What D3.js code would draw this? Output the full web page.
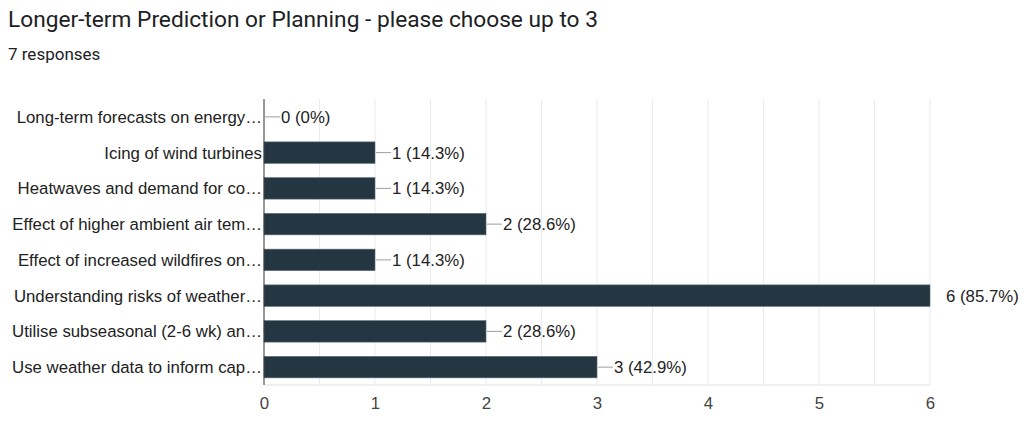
<!DOCTYPE html>
<html>
<head>
<meta charset="utf-8">
<script src="https://cdn.jsdelivr.net/npm/d3@7"></script>
<style>
  body { margin: 0; background: #fff; }
  svg { display: block; }
</style>
</head>
<body>
<svg id="chart" width="1024" height="430"></svg>
<script>
const title = "Longer-term Prediction or Planning - please choose up to 3";
const subtitle = "7 responses";
const totalResponses = 7;

// Answer options (truncated like in the form summary)
const categories = [
  "Long-term forecasts on energy…",
  "Icing of wind turbines",
  "Heatwaves and demand for co…",
  "Effect of higher ambient air tem…",
  "Effect of increased wildfires on…",
  "Understanding risks of weather…",
  "Utilise subseasonal (2-6 wk) an…",
  "Use weather data to inform cap…"
];
const counts = [0, 1, 1, 2, 1, 6, 2, 3];
const xTicks = [0, 1, 2, 3, 4, 5, 6];

const margin = { top: 99, right: 94, bottom: 45, left: 264 };
const width = 1024, height = 430;
const labelFont = "'Liberation Sans', Arial, sans-serif";

const svg = d3.select("#chart");

svg.append("text")
  .attr("x", 8).attr("y", 27)
  .style("font-family", "Roboto, sans-serif")
  .style("font-size", "22.7px")
  .attr("fill", "#202124")
  .text(title);

svg.append("text")
  .attr("x", 8).attr("y", 60)
  .style("font-family", "Roboto, sans-serif")
  .style("font-size", "17px")
  .attr("fill", "#202124")
  .text(subtitle);

const x = d3.scaleLinear()
  .domain([0, 6])
  .range([margin.left, width - margin.right]);

const y = d3.scaleBand()
  .domain(categories)
  .range([margin.top, height - margin.bottom])
  .paddingInner(0.4)
  .paddingOuter(0.2);

const g = svg.append("g");

// light grid, every half unit
g.append("g")
  .selectAll("line")
  .data(d3.range(0.5, 6.01, 0.5))
  .join("line")
  .attr("x1", d => x(d)).attr("x2", d => x(d))
  .attr("y1", margin.top).attr("y2", height - margin.bottom)
  .attr("stroke", "#ebebeb")
  .attr("stroke-width", 1);

g.append("line")
  .attr("x1", margin.left).attr("x2", x(6))
  .attr("y1", height - margin.bottom).attr("y2", height - margin.bottom)
  .attr("stroke", "#ebebeb")
  .attr("stroke-width", 1.5);

// bars
g.append("g")
  .selectAll("rect")
  .data(counts)
  .join("rect")
  .attr("x", x(0))
  .attr("y", (d, i) => y(categories[i]))
  .attr("width", d => x(d) - x(0))
  .attr("height", y.bandwidth())
  .attr("fill", "#243642")
  .attr("stroke", "#5b6b76")
  .attr("stroke-width", d => d > 0 ? 0.6 : 0);

// leader lines + value labels
const maxCount = d3.max(counts);
const labels = g.append("g")
  .selectAll("g")
  .data(counts)
  .join("g")
  .attr("transform", (d, i) => `translate(${x(d)},${y(categories[i]) + y.bandwidth() / 2})`);

labels.filter(d => d < maxCount)
  .append("line")
  .attr("x1", 1).attr("x2", 16)
  .attr("stroke", "#9e9e9e")
  .attr("stroke-width", 1);

labels.append("text")
  .attr("x", d => d < maxCount ? 17 : 16)
  .attr("dy", "0.35em")
  .style("font-family", labelFont)
  .style("font-size", "16.8px")
  .attr("fill", "#222")
  .text(d => `${d} (${d3.format(".1f")(d / totalResponses * 100).replace(/\.0$/, "")}%)`);

// category labels
g.append("g")
  .selectAll("text")
  .data(categories)
  .join("text")
  .attr("x", margin.left - 2)
  .attr("y", d => y(d) + y.bandwidth() / 2)
  .attr("dy", "0.35em")
  .attr("text-anchor", "end")
  .style("font-family", labelFont)
  .style("font-size", "16.8px")
  .attr("fill", "#222")
  .text(d => d);

// left axis line
g.append("line")
  .attr("x1", margin.left).attr("x2", margin.left)
  .attr("y1", margin.top).attr("y2", height - margin.bottom)
  .attr("stroke", "#333")
  .attr("stroke-width", 1);

// x axis tick labels
const xAxis = d3.axisBottom(x).tickValues(xTicks).tickFormat(d3.format("d"))
  .tickSize(0).tickPadding(12);
const ax = svg.append("g")
  .attr("transform", `translate(0,${height - margin.bottom})`)
  .call(xAxis);
ax.select(".domain").remove();
ax.selectAll("text")
  .style("font-family", labelFont)
  .style("font-size", "16.8px")
  .attr("fill", "#444");
</script>
</body>
</html>
